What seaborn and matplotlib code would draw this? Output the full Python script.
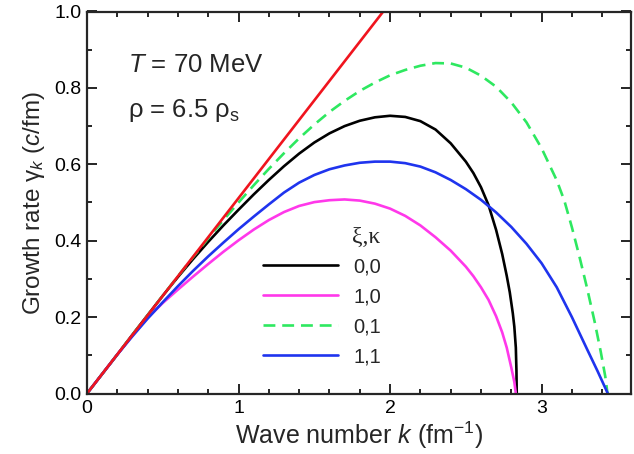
import numpy as np
import pandas as pd
import matplotlib
matplotlib.use("Agg")
import matplotlib.pyplot as plt
import seaborn as sns
from matplotlib.ticker import MultipleLocator, FormatStrFormatter

# Growth rate gamma_k (c/fm) versus wave number k (fm^-1), T = 70 MeV, rho = 6.5 rho_s
k_00 = [0.0, 0.1, 0.2, 0.3, 0.4, 0.5, 0.6, 0.7, 0.8, 0.9, 1.0, 1.1, 1.2, 1.3, 1.4, 1.5,
        1.6, 1.7, 1.8, 1.9, 2.0, 2.1, 2.2, 2.3, 2.4, 2.5, 2.55, 2.6, 2.65, 2.7, 2.74,
        2.77, 2.79, 2.81, 2.82, 2.83, 2.834, 2.836]
g_00 = [0.0, 0.051, 0.102, 0.154, 0.205, 0.256, 0.305, 0.352, 0.397, 0.440, 0.481, 0.521,
        0.559, 0.595, 0.628, 0.657, 0.681, 0.700, 0.714, 0.723, 0.727, 0.724, 0.713, 0.691,
        0.655, 0.607, 0.577, 0.540, 0.493, 0.428, 0.365, 0.308, 0.265, 0.21, 0.175, 0.12,
        0.06, 0.0]

k_10 = [0.0, 0.1, 0.2, 0.3, 0.4, 0.5, 0.6, 0.7, 0.8, 0.9, 1.0, 1.1, 1.2, 1.3, 1.4, 1.5,
        1.6, 1.7, 1.8, 1.9, 2.0, 2.1, 2.2, 2.3, 2.4, 2.5, 2.55, 2.6, 2.65, 2.7, 2.74,
        2.77, 2.8, 2.82, 2.83]
g_10 = [0.0, 0.051, 0.102, 0.152, 0.198, 0.237, 0.272, 0.306, 0.339, 0.371, 0.401, 0.429,
        0.454, 0.475, 0.491, 0.501, 0.506, 0.508, 0.505, 0.497, 0.484, 0.465, 0.440, 0.409,
        0.374, 0.332, 0.307, 0.278, 0.245, 0.202, 0.16, 0.12, 0.068, 0.03, 0.0]

k_01 = [0.0, 0.1, 0.2, 0.3, 0.4, 0.5, 0.6, 0.7, 0.8, 0.9, 1.0, 1.1, 1.2, 1.3, 1.4, 1.5,
        1.6, 1.7, 1.8, 1.9, 2.0, 2.1, 2.2, 2.3, 2.4, 2.5, 2.6, 2.7, 2.8, 2.9, 3.0, 3.1,
        3.15, 3.2, 3.25, 3.3, 3.35, 3.39, 3.42, 3.435]
g_01 = [0.0, 0.051, 0.102, 0.154, 0.205, 0.256, 0.307, 0.357, 0.406, 0.454, 0.500, 0.545,
        0.588, 0.629, 0.668, 0.704, 0.737, 0.766, 0.792, 0.814, 0.833, 0.847, 0.858, 0.865,
        0.864, 0.853, 0.832, 0.803, 0.762, 0.710, 0.642, 0.558, 0.505, 0.435, 0.358, 0.276,
        0.188, 0.11, 0.045, 0.0]

k_11 = [0.0, 0.1, 0.2, 0.3, 0.4, 0.5, 0.6, 0.7, 0.8, 0.9, 1.0, 1.1, 1.2, 1.3, 1.4, 1.5,
        1.6, 1.7, 1.8, 1.9, 2.0, 2.1, 2.2, 2.3, 2.4, 2.5, 2.6, 2.7, 2.8, 2.9, 3.0, 3.1,
        3.2, 3.3, 3.37, 3.437]
g_11 = [0.0, 0.051, 0.102, 0.150, 0.196, 0.239, 0.281, 0.321, 0.359, 0.395, 0.430, 0.463,
        0.495, 0.526, 0.552, 0.572, 0.587, 0.597, 0.604, 0.607, 0.607, 0.603, 0.594, 0.579,
        0.559, 0.535, 0.507, 0.474, 0.436, 0.392, 0.341, 0.278, 0.2, 0.116, 0.058, 0.0]

# upper bound: straight line from the origin
k_lim = [0, 1.955]
g_lim = [0, 1.0]

labels = ["0,0", "1,0", "0,1", "1,1"]
colors = ["#000000", "#ff38ea", "#2ee860", "#1f34ee"]
red = "#f0141e"

sns.set_style("ticks")
plt.rcParams["font.family"] = ["Liberation Sans", "DejaVu Sans"]
plt.rcParams["mathtext.fontset"] = "custom"
plt.rcParams["mathtext.rm"] = "Liberation Sans"
plt.rcParams["mathtext.it"] = "Liberation Sans:italic"

fig = plt.figure(figsize=(6.34, 4.54), dpi=100)
ax = fig.add_axes([87 / 634, 1 - 393.5 / 454, 544 / 634, 382 / 454])

frames = []
for lab, kk, gg in zip(labels, [k_00, k_10, k_01, k_11], [g_00, g_10, g_01, g_11]):
    frames.append(pd.DataFrame({"k": kk, "gamma": gg, "xk": lab}))
df = pd.concat(frames, ignore_index=True)

lw = 1.9
sns.lineplot(data=df, x="k", y="gamma", hue="xk", style="xk",
             hue_order=labels, style_order=labels,
             palette=dict(zip(labels, colors)),
             dashes={"0,0": "", "1,0": "", "0,1": (4.5, 2.6), "1,1": ""},
             estimator=None, sort=False, lw=lw, ax=ax)
# limiting line drawn over the curves
sns.lineplot(x=k_lim, y=g_lim, color=red, lw=lw, ax=ax, legend=False, zorder=5)

ax.set_xlim(0, 3.59)
ax.set_ylim(0, 1.0)
ax.xaxis.set_major_locator(MultipleLocator(1))
ax.xaxis.set_minor_locator(MultipleLocator(0.2))
ax.yaxis.set_major_locator(MultipleLocator(0.2))
ax.yaxis.set_minor_locator(MultipleLocator(0.1))
ax.yaxis.set_major_formatter(FormatStrFormatter("%.1f"))
ax.xaxis.set_major_formatter(FormatStrFormatter("%d"))

for s in ax.spines.values():
    s.set_visible(True)
    s.set_linewidth(1.6)
    s.set_zorder(6)
ax.tick_params(which="both", direction="in", top=True, right=True, width=1.2, colors="black")
ax.tick_params(which="major", length=7)
ax.tick_params(which="minor", length=3.6)
ax.tick_params(axis="x", which="major", labelsize=14, pad=5)
ax.tick_params(axis="y", which="major", labelsize=14, pad=4)

ax.set_xlabel("Wave number $k$ (fm$^{-1}$)", fontsize=18, labelpad=1.5)
ax.set_ylabel("Growth rate γ$_{k}$ ($c$/fm)", fontsize=17.5, labelpad=5)

ax.text(0.0754, 0.8416, "$T$ = 70 MeV", transform=ax.transAxes, fontsize=18.5,
        ha="left", va="baseline")
ax.text(0.0754, 0.723, "ρ = 6.5 ρ$_{\\mathrm{s}}$", transform=ax.transAxes, fontsize=18.5,
        ha="left", va="baseline")

handles, labs = ax.get_legend_handles_labels()
leg = ax.legend(handles, labs, loc="upper left", bbox_to_anchor=(0.3235, 0.356),
                frameon=False, fontsize=14.5, handlelength=3.73, handletextpad=0.75,
                labelspacing=0.54, borderpad=0, borderaxespad=0)
for h in leg.get_lines():
    h.set_linewidth(lw)
ax.text(0.487, 0.41, "ξ,κ", transform=ax.transAxes, fontsize=17,
        family=["Liberation Serif", "DejaVu Serif"], ha="left", va="center")

fig.savefig("out.png", dpi=100)
